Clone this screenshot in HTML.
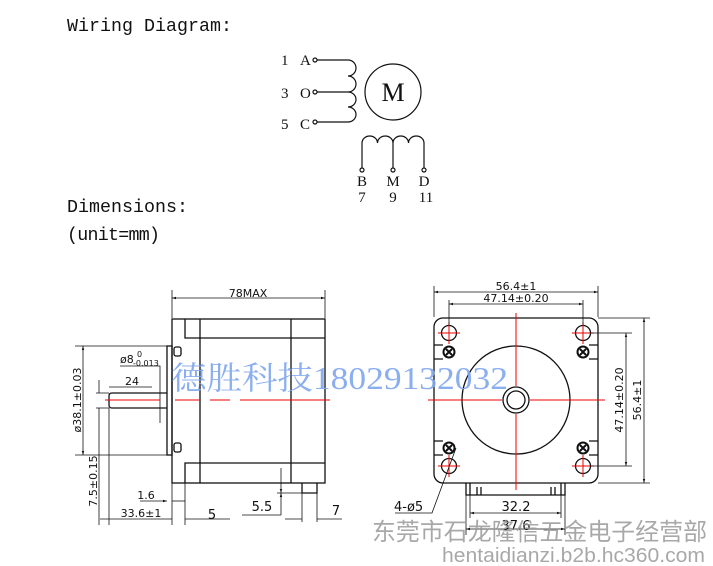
<!DOCTYPE html>
<html><head><meta charset="utf-8"><style>
body{margin:0;background:#fff;width:713px;height:566px;overflow:hidden}
svg{display:block}
.m{font-family:"Liberation Mono",monospace;font-size:18.3px;fill:#111}
.s{font-family:"Liberation Serif",serif;font-size:15px;fill:#111}
.d{font-family:"DejaVu Sans","Liberation Sans",sans-serif;font-size:11px;fill:#111}
</style></head><body>
<svg width="713" height="566" viewBox="0 0 713 566" xmlns="http://www.w3.org/2000/svg">
<defs><marker id="a" viewBox="0 0 10 10" refX="10" refY="5" markerWidth="7" markerHeight="5" orient="auto-start-reverse"><path d="M0,2 L10,5 L0,8z" fill="#111"/></marker></defs>
<text x="67" y="31" class="m" textLength="165">Wiring Diagram:</text>
<text x="67" y="212" class="m" textLength="121">Dimensions:</text>
<text x="67" y="240" class="m" textLength="93">(unit=mm)</text>
<!-- wiring -->
<g stroke="#111" stroke-width="1.2" fill="none">
<circle cx="315" cy="60" r="2"/><circle cx="315" cy="92" r="2"/><circle cx="315" cy="122" r="2"/>
<path d="M317,60H348 M317,92H348 M317,122H348"/>
<path d="M348,60 A8,8 0 0 1 348,76 A8,8 0 0 1 348,92 A8,7.5 0 0 1 348,107 A8,7.5 0 0 1 348,122"/>
<circle cx="393" cy="92" r="28"/>
<path d="M362,168V143 A7.75,7 0 0 1 377.5,143 A7.75,7 0 0 1 393,143 A7.75,7 0 0 1 408.5,143 A7.75,7 0 0 1 424,143 V168 M393,143V168"/>
<circle cx="362" cy="170" r="2"/><circle cx="393" cy="170" r="2"/><circle cx="424" cy="170" r="2"/>
</g>
<text x="281" y="65" class="s">1</text><text x="300" y="65" class="s">A</text>
<text x="281" y="98" class="s">3</text><text x="300" y="98" class="s">O</text>
<text x="281" y="129" class="s">5</text><text x="300" y="129" class="s">C</text>
<text x="393" y="101" class="s" text-anchor="middle" style="font-size:26px">M</text>
<text x="362" y="186" class="s" text-anchor="middle">B</text><text x="393" y="186" class="s" text-anchor="middle">M</text><text x="424" y="186" class="s" text-anchor="middle">D</text>
<text x="362" y="202" class="s" text-anchor="middle">7</text><text x="393" y="202" class="s" text-anchor="middle">9</text><text x="426" y="202" class="s" text-anchor="middle">11</text>
<!-- side view -->
<g stroke="#111" stroke-width="1.3" fill="none">
<rect x="172" y="319" width="153" height="164"/>
<path d="M185,319V338H325 M185,483V463H325 M200,319V483 M291,319V483"/>
<rect x="167" y="346" width="5" height="109"/>
<rect x="174" y="347" width="7" height="9" rx="2"/><rect x="174" y="443" width="7" height="9" rx="2"/>
<path d="M167,393H112 Q109,393 109,396V405 Q109,408 112,408H167"/>
<path d="M302,483V493H317V483"/>
</g>
<g stroke="#111" stroke-width="0.8" fill="none">
<path d="M172,318V290 M325,318V290"/><path d="M172,298H325" marker-start="url(#a)" marker-end="url(#a)"/>
<path d="M75,346H167 M75,455H167"/><path d="M83,346V455" marker-start="url(#a)" marker-end="url(#a)"/>
<path d="M96,393H109 M96,408H109 M99,380V393 M99,408V525"/>
<path d="M120,366H160V423"/>
<path d="M109,408V525 M109,387H152"/>
<path d="M140,501H167" marker-end="url(#a)"/><path d="M185,501H172"/>
<path d="M172,483V525 M185,483V525 M100,519H172 M185,519H230"/>
<path d="M281,468V493" marker-end="url(#a)"/><path d="M281,515V493" marker-end="url(#a)"/><path d="M277,493H317 M242,515H281"/>
<path d="M302,493V522 M317,493V522 M285,519H302" /><path d="M317,519H342"/>
</g>
<path d="M105,400H160 M175,400H200 M210,400H230 M240,400H330" stroke="#e00" stroke-width="1"/>
<text x="248" y="297" class="d" text-anchor="middle">78MAX</text>
<text x="120" y="363" class="d">ø8</text><text x="137" y="357" class="d" style="font-size:8px">0</text><text x="133" y="366" class="d" style="font-size:8px">-0.013</text>
<text x="132" y="385" class="d" text-anchor="middle">24</text>
<text transform="translate(81,400) rotate(-90)" class="d" text-anchor="middle">ø38.1±0.03</text>
<text transform="translate(97,481) rotate(-90)" class="d" text-anchor="middle">7.5±0.15</text>
<text x="146" y="499" class="d" text-anchor="middle">1.6</text>
<text x="141" y="517" class="d" text-anchor="middle">33.6±1</text>
<text x="212" y="519" class="d" text-anchor="middle" style="font-size:13px">5</text>
<text x="262" y="511" class="d" text-anchor="middle" style="font-size:13px">5.5</text>
<text x="336" y="515" class="d" text-anchor="middle" style="font-size:13px">7</text>
<!-- front view -->
<g stroke="#111" stroke-width="1.3" fill="none">
<rect x="434" y="318" width="164" height="165" rx="9"/>
<circle cx="516" cy="400" r="54"/><circle cx="516" cy="400" r="13"/><circle cx="516" cy="400" r="9"/>
<circle cx="449" cy="333" r="7.5"/><circle cx="583" cy="333" r="7.5"/><circle cx="449" cy="466" r="7.5"/><circle cx="583" cy="466" r="7.5"/>
<path d="M434,345H443 M434,359H443 M589,345H598 M589,359H598 M434,441H443 M434,455H443 M589,441H598 M589,455H598"/>
<path d="M466,483V495H565V483 M470,483V495 M561,483V495 M477,487V495 M481,487V495 M551,487V495 M555,487V495"/>
</g>
<g stroke="#111" stroke-width="2" fill="none">
<circle cx="449" cy="352" r="5.5"/><circle cx="583" cy="352" r="5.5"/><circle cx="449" cy="448" r="5.5"/><circle cx="583" cy="448" r="5.5"/>
<path d="M446,349L452,355M452,349L446,355 M580,349L586,355M586,349L580,355 M446,445L452,451M452,445L446,451 M580,445L586,451M586,445L580,451"/>
</g>
<g stroke="#e00" stroke-width="1" fill="none">
<path d="M516,313V386 M516,414V490 M428,400H502 M530,400H605"/>
<path d="M449,322V344 M438,333H460 M583,322V344 M572,333H594 M449,455V477 M438,466H460 M583,455V477 M572,466H594"/>
</g>
<g stroke="#111" stroke-width="0.8" fill="none">
<path d="M434,317V286 M598,317V286 M449,325V300 M583,325V300"/>
<path d="M434,292H598" marker-start="url(#a)" marker-end="url(#a)"/>
<path d="M449,304H583" marker-start="url(#a)" marker-end="url(#a)"/>
<path d="M590,333H632 M590,466H632 M598,318H650 M598,483H650"/>
<path d="M626,333V466" marker-start="url(#a)" marker-end="url(#a)"/>
<path d="M644,318V483" marker-start="url(#a)" marker-end="url(#a)"/>
<path d="M466,495V535 M565,495V535 M470,495V518 M561,495V518"/>
<path d="M470,513H561" marker-start="url(#a)" marker-end="url(#a)"/>
<path d="M466,529H565" marker-start="url(#a)" marker-end="url(#a)"/>
<path d="M395,513H432 L456,448"/>
</g>
<text x="516" y="290" class="d" text-anchor="middle">56.4±1</text>
<text x="516" y="302" class="d" text-anchor="middle">47.14±0.20</text>
<text transform="translate(623,400) rotate(-90)" class="d" text-anchor="middle">47.14±0.20</text>
<text transform="translate(641,400) rotate(-90)" class="d" text-anchor="middle">56.4±1</text>
<text x="516" y="511" class="d" text-anchor="middle" style="font-size:13px">32.2</text>
<text x="516" y="530" class="d" text-anchor="middle" style="font-size:13px">37.6</text>
<text x="394" y="511" class="d" style="font-size:13px">4-ø5</text>
<!-- watermarks -->
<text x="171" y="389" textLength="337" lengthAdjust="spacingAndGlyphs" style="font-family:'Liberation Serif','Noto Serif CJK SC',serif;font-size:32px;fill:#7fa6ee;opacity:.9">德胜科技18029132032</text>
<text x="372" y="540" textLength="335" lengthAdjust="spacingAndGlyphs" style="font-family:'Liberation Sans','Noto Sans CJK SC',sans-serif;font-size:24px;fill:#9a9a9a;opacity:.85">东莞市石龙隆信五金电子经营部</text>
<text x="442" y="562" textLength="263" lengthAdjust="spacingAndGlyphs" style="font-family:'Liberation Sans',sans-serif;font-size:20px;fill:#9a9a9a;opacity:.85">hentaidianzi.b2b.hc360.com</text>
</svg>
</body></html>
